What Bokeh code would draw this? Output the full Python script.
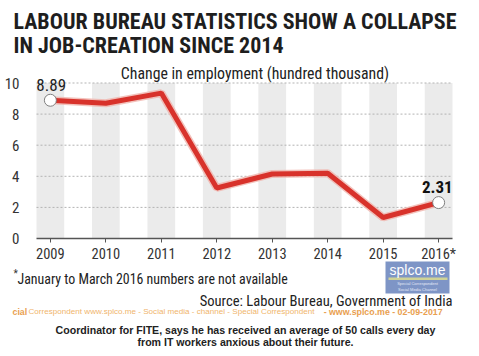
from bokeh.plotting import figure
from bokeh.models import Range1d, FixedTicker, Label
from bokeh.embed import file_html
from bokeh.resources import INLINE

# ---- data ----
years = ["2009", "2010", "2011", "2012", "2013", "2014", "2015", "2016*"]
employment = [8.89, 8.70, 9.35, 3.25, 4.15, 4.20, 1.35, 2.31]
y_ticks = [0, 2, 4, 6, 8, 10]
band_top = 10

title_lines = ["LABOUR BUREAU STATISTICS SHOW A COLLAPSE", "IN JOB-CREATION SINCE 2014"]
subtitle = "Change in employment (hundred thousand)"
footnote = "January to March 2016 numbers are not available"
source = "Source: Labour Bureau, Government of India"
watermark = ["cial", "Correspondent www.splco.me  -  Social media - channel - Special Correspondent",
             "- www.splco.me  -  02-09-2017"]
caption = ["Coordinator for FITE, says he has received an average of 50 calls every day",
           "from IT workers anxious about their future."]
logo = ["splco.me", "Special Correspondent", "Social Media Channel"]

COND = "Roboto Condensed"
ARIAL = "Liberation Sans"

# ---- layout (pixels) ----
W, H = 479, 356
L, R = 36, 27          # plot area left / right edge offsets
BASE = 238             # pixel row of y = 0
PPU = 15.55            # pixels per y unit
n = len(years)
xs = list(range(n))
x_lo, x_hi = -0.25, n - 0.75
ppx = (W - L - R) / (x_hi - x_lo)

p = figure(width=W, height=H, output_backend="svg", toolbar_location=None,
           x_range=Range1d(x_lo - L / ppx, x_hi + R / ppx),
           y_range=Range1d(-(H - BASE) / PPU, BASE / PPU),
           min_border=0, outline_line_color=None,
           background_fill_color="white", border_fill_color="white")
p.extra_x_ranges = {"px": Range1d(0, W)}
p.extra_y_ranges = {"px": Range1d(H, 0)}
p.grid.visible = False

# grey column bands
p.vbar(x=xs, width=0.5, bottom=0, top=band_top, fill_color="#ebebeb", line_color=None)
# dashed horizontal gridlines at the y ticks
gy = y_ticks[1:]
p.segment(x0=[x_lo] * len(gy), x1=[x_hi] * len(gy), y0=gy, y1=gy,
          line_color="#b3b3b3", line_width=1, line_dash="2 2")

# axes drawn inside the canvas
p.yaxis.fixed_location = x_lo
p.yaxis.ticker = FixedTicker(ticks=y_ticks)
p.yaxis.axis_line_color = None
p.yaxis.major_tick_line_color = None
p.yaxis.minor_tick_line_color = None
p.yaxis.major_label_standoff = 11
p.yaxis.major_label_text_font = COND
p.yaxis.major_label_text_font_size = "15px"
p.yaxis.major_label_text_color = "#333333"

p.xaxis.fixed_location = 0
p.xaxis.bounds = (x_lo, x_hi)
p.xaxis.ticker = FixedTicker(ticks=xs)
p.xaxis.major_label_overrides = {i: y for i, y in enumerate(years)}
p.xaxis.axis_line_color = "#555555"
p.xaxis.axis_line_width = 1.5
p.xaxis.major_tick_line_color = "#555555"
p.xaxis.major_tick_out = 4
p.xaxis.major_tick_in = 0
p.xaxis.minor_tick_line_color = None
p.xaxis.major_label_standoff = 3
p.xaxis.major_label_text_font = COND
p.xaxis.major_label_text_font_size = "14.5px"
p.xaxis.major_label_text_color = "#333333"

# series
p.line(xs, employment, line_color="#f0b4ad", line_width=8, line_alpha=0.8)
p.line(xs, employment, line_color="#d8322b", line_width=5)
p.scatter([xs[0], xs[-1]], [employment[0], employment[-1]], size=12,
          fill_color="white", line_color="#808080", line_width=1)

p.add_layout(Label(x=xs[0], y=employment[0], x_offset=-14, y_offset=15,
                   text=f"{employment[0]:.2f}", text_font=COND, text_font_size="17px",
                   text_color="#222222", text_align="left", text_baseline="middle"))
p.add_layout(Label(x=xs[-1], y=employment[-1], x_offset=14, y_offset=16,
                   text=f"{employment[-1]:.2f}", text_font=COND, text_font_size="17px",
                   text_font_style="bold", text_color="#111111", text_align="right",
                   text_baseline="middle"))


def put(text, x, y, size, font=COND, style="normal", color="#222222", align="left"):
    p.text(x=[x], y=[y], text=[text], text_font={"value": font}, text_font_size=f"{size}px",
           text_font_style=style, text_color=color, text_align=align, text_baseline="middle",
           x_range_name="px", y_range_name="px")


# titles
put(title_lines[0], 13, 21, 22, style="bold", color="#1e1e1e")
put(title_lines[1], 13, 45, 22, style="bold", color="#1e1e1e")
put(subtitle, 254.5, 73, 15.8, align="center")

# footnote & source
put("*", 13, 273, 10, color="#333333")
put(footnote, 17, 278, 13.9)
put(source, 452, 300, 14.6, align="right")

# logo
p.quad(left=[385], right=[449], top=[261], bottom=[293], fill_color="#7e95c6",
       line_color=None, x_range_name="px", y_range_name="px")
p.quad(left=[388], right=[447], top=[277], bottom=[279.5], fill_color="#d8d890",
       fill_alpha=0.9, line_color=None, x_range_name="px", y_range_name="px")
put(logo[0], 417, 269, 14, font=ARIAL, color="white", align="center")
put(logo[1], 417, 283, 4, font=ARIAL, color="#e3e9f7", align="center")
put(logo[2], 417, 289, 4, font=ARIAL, color="#e3e9f7", align="center")

# watermark
put(watermark[0], 12, 311, 8.8, font=ARIAL, style="bold", color="#e9a050")
put(watermark[1], 28, 311, 8.1, font=ARIAL, color="#f0b56c")
put(watermark[2], 447, 311, 8.8, font=ARIAL, style="bold", color="#e9a050", align="right")

# caption
put(caption[0], 245, 329, 10.6, font=ARIAL, style="bold", align="center")
put(caption[1], 245, 341, 10.6, font=ARIAL, style="bold", align="center")

open("out.html", "w").write(file_html(p, INLINE))
